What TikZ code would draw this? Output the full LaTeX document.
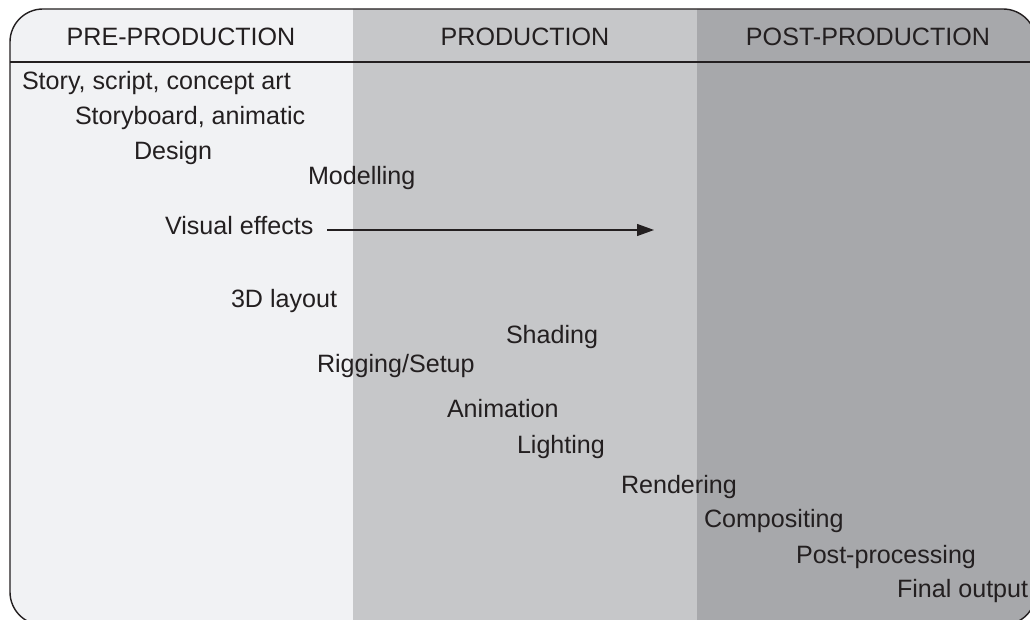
\documentclass[tikz,border=0pt]{standalone}
\usepackage{fontspec}
\setmainfont{Liberation Sans}
\usetikzlibrary{arrows.meta}
\definecolor{ink}{HTML}{231F20}
\definecolor{prefill}{HTML}{F1F2F4}
\definecolor{prodfill}{HTML}{C6C7C9}
\definecolor{postfill}{HTML}{A7A8AB}
\tikzset{
  lbl/.style={anchor=base west, inner sep=0pt, outer sep=0pt, text=ink, font=\fontsize{25.1}{30}\selectfont},
  hdr/.style={anchor=base, inner sep=0pt, outer sep=0pt, text=ink, font=\fontsize{25.1}{30}\selectfont},
  frame/.style={draw=ink, line width=1.4pt, rounded corners=33pt},
  sep/.style={draw=ink, line width=1.4pt},
  arrowline/.style={draw=ink, line width=1.2pt, -{Triangle[length=17pt,width=12pt]}}
}
\begin{document}
\begin{tikzpicture}[x=1pt,y=-1pt]
\useasboundingbox (0,0) rectangle (1030,620);
\begin{scope}
  \clip (0,0) rectangle (1030,620);
  \begin{scope}
    \clip[rounded corners=33pt] (10,9) rectangle (1036,625);
    \fill[prefill] (0,0) rectangle (353,630);
    \fill[prodfill] (353,0) rectangle (697,630);
    \fill[postfill] (697,0) rectangle (1040,630);
  \end{scope}
  \path[sep] (10,62) -- (1036,62);
  \path[frame] (10,9) rectangle (1036,625);
\end{scope}
\node[hdr] (hpre) at (181,46) {PRE-PRODUCTION};
\node[hdr] (hprod) at (525,46) {PRODUCTION};
\node[hdr] (hpost) at (868,46) {POST-PRODUCTION};
\node[lbl] (story) at (22,90) {Story, script, concept art};
\node[lbl] (board) at (75,125) {Storyboard, animatic};
\node[lbl] (design) at (134,160) {Design};
\node[lbl] (model) at (308,185) {Modelling};
\node[lbl] (ve) at (165,235) {Visual effects};
\node[lbl] (layout) at (231,307) {3D layout};
\node[lbl] (shade) at (506,343) {Shading};
\node[lbl] (rig) at (317,372) {Rigging/Setup};
\node[lbl] (anim) at (447,417) {Animation};
\node[lbl] (light) at (517,453) {Lighting};
\node[lbl] (render) at (621,493) {Rendering};
\node[lbl] (comp) at (704,527) {Compositing};
\node[lbl] (post) at (796,563) {Post-processing};
\node[lbl] (final) at (897,597) {Final output};
\coordinate (vend) at (654,230);
\draw[arrowline] ([xshift=14pt,yshift=5pt]ve.base east) -- (vend);
\end{tikzpicture}
\end{document}
